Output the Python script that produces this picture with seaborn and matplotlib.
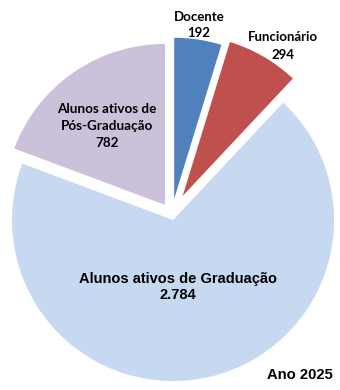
import matplotlib
matplotlib.use("Agg")
import matplotlib.pyplot as plt
import seaborn as sns

categories = ["Docente", "Funcionário", "Alunos ativos de Graduação", "Alunos ativos de Pós-Graduação"]
values = [192, 294, 2784, 782]
value_labels = ["192", "294", "2.784", "782"]
colors = ["#4F81BD", "#C0504D", "#C6D9F0", "#CCC1DA"]
explode = [0.10, 0.135, 0.034, 0.074]
year_label = "Ano 2025"

sns.set_style("white")
W, H = 340, 390
fig = plt.figure(figsize=(W / 100, H / 100), dpi=100)
ax = fig.add_axes([0, 0, 1, 1])
R = 161.0
cx, cy = 171.8, 214.7  # pixel position of pie centre (from top-left)

ax.pie(values, colors=colors, explode=explode, startangle=90, counterclock=False,
       radius=1.0, wedgeprops=dict(linewidth=0))
ax.set_xlim(-cx / R, (W - cx) / R)
ax.set_ylim(-(H - cy) / R, cy / R)
ax.set_aspect("equal")
ax.axis("off")

def px(x, y):
    return x / W, 1 - y / H

top_font = ["Lato", "DejaVu Sans"]
arial = ["Liberation Sans", "DejaVu Sans"]

fig.text(*px(199, 25), f"{categories[0]}\n{value_labels[0]}", ha="center", va="center",
         fontsize=9.5, fontweight="bold", family=top_font, linespacing=1.45, color="black")
fig.text(*px(283, 46), f"{categories[1]}\n{value_labels[1]}", ha="center", va="center",
         fontsize=9.5, fontweight="bold", family=top_font, linespacing=1.55, color="black")
fig.text(*px(107, 126), "Alunos ativos de\nPós-Graduação\n" + value_labels[3], ha="center", va="center",
         fontsize=9.7, fontweight="bold", family=top_font, linespacing=1.5, color="black")
fig.text(*px(178, 287), f"{categories[2]}\n{value_labels[2]}", ha="center", va="center",
         fontsize=10.5, fontweight="bold", family=arial, linespacing=1.2, color="black")
fig.text(*px(333, 375), year_label, ha="right", va="center",
         fontsize=10.6, fontweight="bold", family=arial, color="black")

fig.savefig("out.png", dpi=100)
